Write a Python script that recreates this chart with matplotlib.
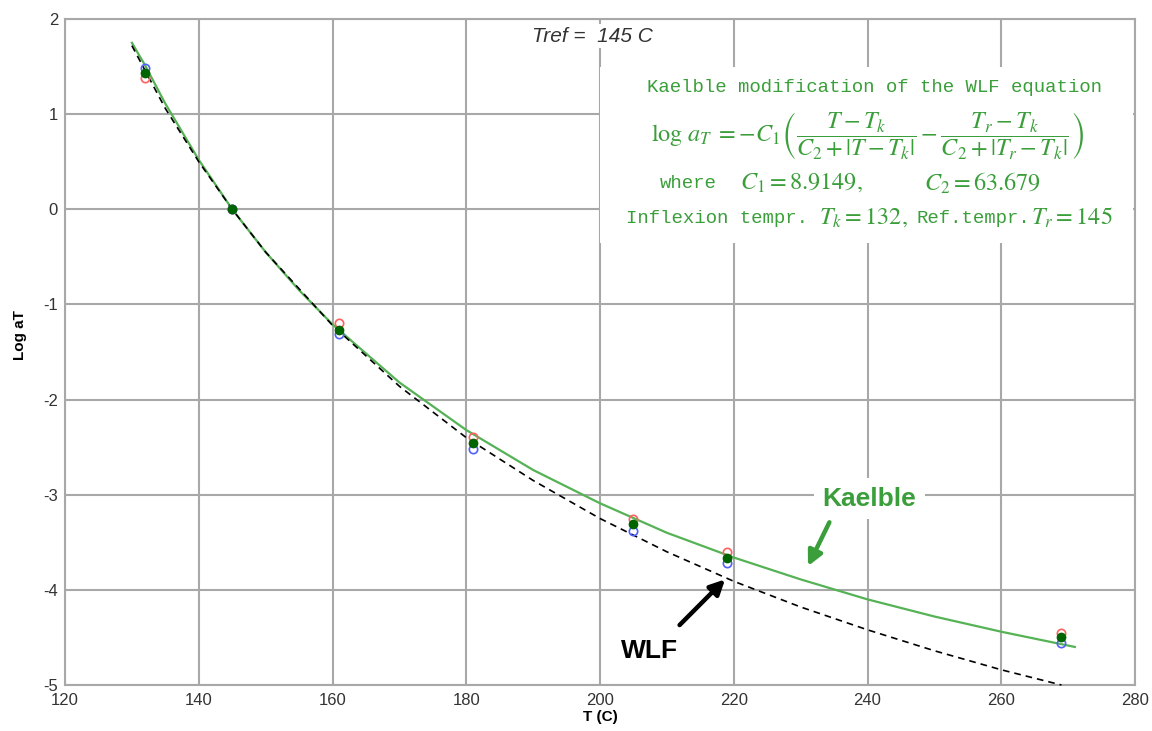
import numpy as np
import matplotlib
matplotlib.use('Agg')
import matplotlib.pyplot as plt

plt.rcParams['mathtext.fontset'] = 'stix'
plt.rcParams['font.family'] = ['Liberation Sans', 'DejaVu Sans']
plt.rcParams['axes.unicode_minus'] = False

# Kaelble fit curve
kael_t = [130, 132, 135, 140, 145, 150, 155, 160, 170, 180, 190, 200, 210, 220, 230, 240, 250, 260, 271]
kael_y = [1.75, 1.51, 1.11, 0.52, 0.0, -0.45, -0.85, -1.21, -1.82, -2.32, -2.74, -3.09, -3.40, -3.66, -3.89, -4.10, -4.28, -4.44, -4.60]

# WLF curve (dashed)
wlf_t = [130, 135, 140, 145, 150, 160, 170, 180, 190, 200, 210, 220, 230, 240, 250, 260, 269]
wlf_y = [1.72, 1.06, 0.50, 0.0, -0.45, -1.22, -1.86, -2.40, -2.85, -3.25, -3.60, -3.91, -4.18, -4.42, -4.64, -4.84, -5.0]

# measured shift factors
pts_t = [132, 145, 161, 181, 205, 219, 269]
green_y = [1.43, 0.0, -1.27, -2.46, -3.31, -3.66, -4.50]
red_y = [1.38, 0.0, -1.20, -2.39, -3.26, -3.60, -4.45]
blue_y = [1.48, 0.0, -1.31, -2.52, -3.38, -3.72, -4.56]

grid_col = '#a8a8a8'
green = '#3a9e3a'
line_green = '#55b255'

fig = plt.figure(figsize=(11.52, 7.31), dpi=100)
ax = fig.add_axes([65/1152, 1-685/731, 1070/1152, 666/731])

ax.set_xlim(120, 280)
ax.set_ylim(-5, 2)
ax.set_xticks(range(120, 281, 20))
ax.set_yticks(range(-5, 3))
ax.grid(True, color=grid_col, lw=1.5, zorder=0)
for s in ax.spines.values():
    s.set_color(grid_col)
    s.set_linewidth(1.5)
ax.tick_params(length=0, labelsize=12, labelcolor='#333333', pad=5)
ax.tick_params(axis='x', pad=6)

ax.plot(kael_t, kael_y, color=line_green, lw=1.6, zorder=3)
ax.plot(wlf_t, wlf_y, color='black', lw=1.2, ls=(0, (4, 3)), zorder=3, clip_on=False)

ax.plot(pts_t, red_y, 'o', mfc='none', mec='#ff6060', ms=6, mew=1.2, zorder=4)
ax.plot(pts_t, blue_y, 'o', mfc='none', mec='#5060ff', ms=6, mew=1.2, zorder=4)
ax.plot(pts_t, green_y, 'o', color='#006400', ms=6, zorder=5)

fig.text(600/1152, 1-717/731, 'T (C)', fontsize=11, fontweight='bold', ha='center', va='center')
fig.text(20/1152, 1-335/731, 'Log aT', fontsize=11, fontweight='bold', ha='center', va='center',
         rotation=90)

# Tref label
ax.text(198.8, 1.82, 'Tref =  145 C', fontsize=15, style='italic', color='#333333',
        ha='center', va='center', zorder=6,
        bbox=dict(facecolor='white', edgecolor='none', pad=2))

# equation panel
ax.add_patch(plt.Rectangle((200, -0.35), 79.7, 1.85, facecolor='white',
                           edgecolor='none', zorder=6))
mono = 'Liberation Mono'
tsize = 13.7
msize = 17.5
ax.text(241, 1.285, 'Kaelble modification of the WLF equation', family=mono,
        fontsize=tsize, color=green, ha='center', va='center', zorder=7)
ax.text(240, 0.78,
        r'$\log\, a_T\; = -C_1\left(\dfrac{T-T_k}{C_2+|T-T_k|} - \dfrac{T_r-T_k}{C_2+|T_r-T_k|}\right)$',
        fontsize=msize, color=green, ha='center', va='center', zorder=7)
ax.text(208.97, 0.276, 'where', family=mono, fontsize=tsize, color=green,
        ha='left', va='center', zorder=7)
ax.text(220.93, 0.276, r'$C_1 = 8.9149,$', fontsize=msize, color=green,
        ha='left', va='center', zorder=7)
ax.text(248.45, 0.276, r'$C_2 = 63.679$', fontsize=msize, color=green,
        ha='left', va='center', zorder=7)
ax.text(203.89, -0.092, 'Inflexion tempr.', family=mono, fontsize=tsize, color=green,
        ha='left', va='center', zorder=7)
ax.text(232.7, -0.092, r'$T_k = 132,$', fontsize=msize, color=green,
        ha='left', va='center', zorder=7)
ax.text(247.3, -0.092, 'Ref.tempr.', family=mono, fontsize=tsize, color=green,
        ha='left', va='center', zorder=7)
ax.text(264.5, -0.092, r'$T_r = 145$', fontsize=msize, color=green,
        ha='left', va='center', zorder=7)

# arrow annotations
ax.text(240.3, -3.04, 'Kaelble', fontsize=19, fontweight='bold', color=green,
        ha='center', va='center', zorder=6,
        bbox=dict(facecolor='white', edgecolor='none', pad=6))
ax.annotate('', xy=(231.1, -3.75), xytext=(234.3, -3.29), zorder=6,
            arrowprops=dict(arrowstyle='-|>', color=green, lw=3.2, mutation_scale=22,
                            shrinkA=0, shrinkB=0))
ax.text(207.4, -4.64, 'WLF', fontsize=19, fontweight='bold', color='black',
        ha='center', va='center', zorder=6)
ax.annotate('', xy=(218.7, -3.89), xytext=(211.9, -4.37), zorder=6,
            arrowprops=dict(arrowstyle='-|>', color='black', lw=3.2, mutation_scale=22,
                            shrinkA=0, shrinkB=0))

fig.savefig('out.png', dpi=100)
